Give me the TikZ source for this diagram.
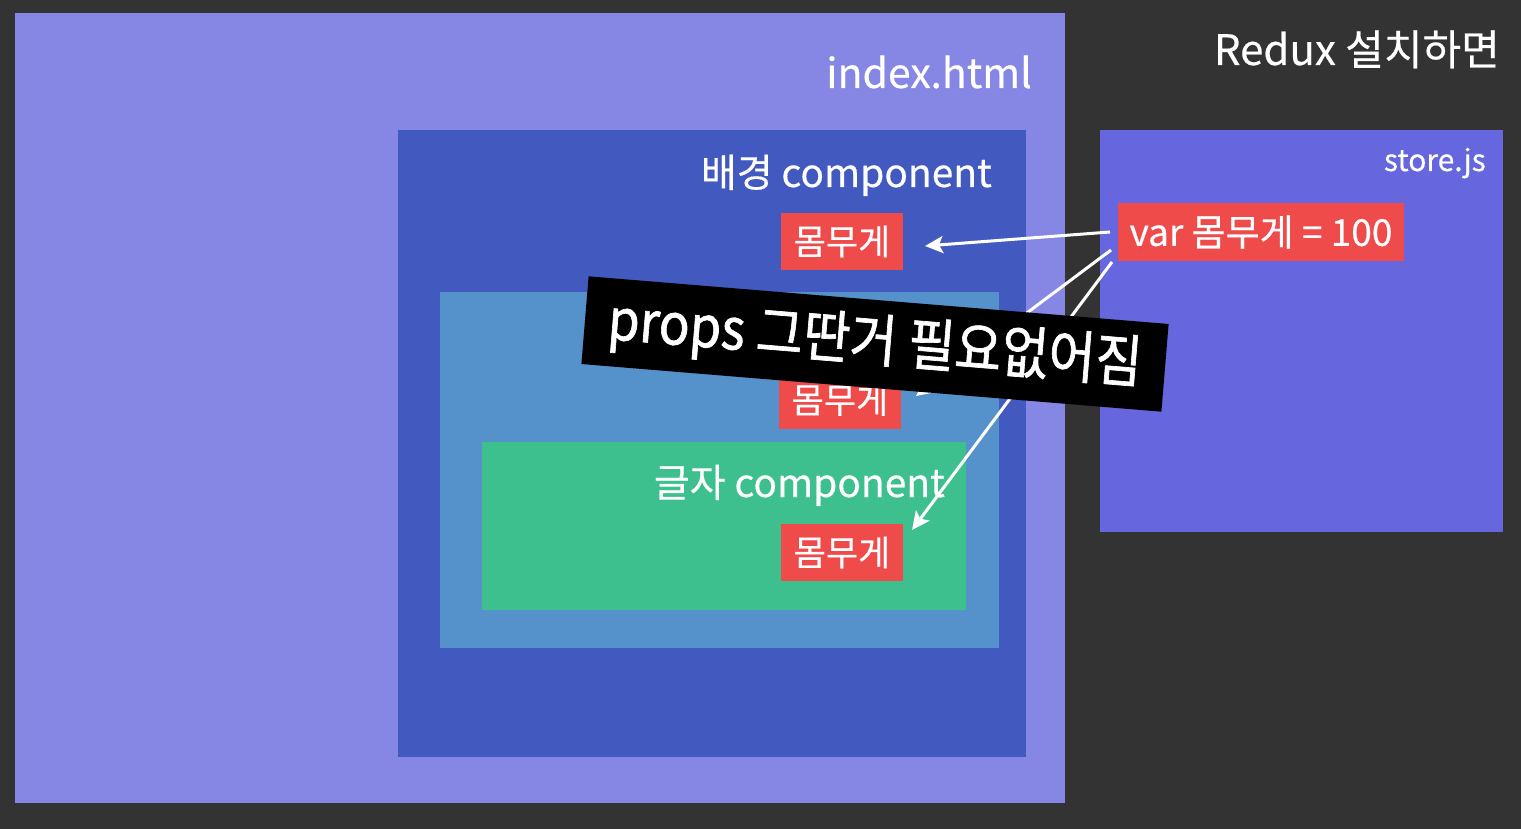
\documentclass[tikz,border=0pt]{standalone}
\usepackage{fontspec}
\setmainfont[FakeBold=0.4]{Noto Sans CJK KR}
\newfontfamily\bannerfont[FakeBold=1.2]{Noto Sans CJK KR}
\usetikzlibrary{arrows.meta}
\definecolor{bgc}{HTML}{333333}
\definecolor{outerc}{HTML}{8686E4}
\definecolor{innerc}{HTML}{425ABF}
\definecolor{midc}{HTML}{5592CC}
\definecolor{greenc}{HTML}{3DBF8E}
\definecolor{storec}{HTML}{6666DF}
\definecolor{redc}{HTML}{F04B4B}
\newcommand\fsz[1]{\fontsize{#1}{#1}\selectfont}
\tikzset{
  boxn/.style={rectangle, inner sep=0pt, outer sep=0pt, draw=none},
  lbl/.style={text=white, inner sep=0pt, anchor=base east, font=\fsz{39}},
  redbox/.style={boxn, fill=redc, text=white, font=\fsz{35}},
  arr/.style={draw=white, line width=3pt, -{Stealth[length=18pt,width=17pt,inset=4pt]}},
}
\begin{document}
\begin{tikzpicture}[x=1pt,y=-1pt]
\useasboundingbox (0,0) rectangle (1521,829);
\fill[bgc] (0,0) rectangle (1521,829);
% boxes
\node[boxn, fill=outerc, minimum width=1050, minimum height=790] (outer) at (540,408) {};
\node[lbl, font=\fsz{41}] (idx) at (1032,88) {index.html};
\node[boxn, fill=innerc, minimum width=628, minimum height=627] (inner) at (712,443.5) {};
\node[lbl] (bglbl) at (992,187) {배경 component};
\node[boxn, fill=midc, minimum width=559, minimum height=356] (mid) at (719.5,470) {};
\node[boxn, fill=greenc, minimum width=484, minimum height=168] (green) at (724,526) {};
\node[lbl] (gllbl) at (945,497) {글자 component};
\node[redbox, minimum width=122, minimum height=57] (r1) at (842,241.5) {몸무게};
\node[redbox, minimum width=122, minimum height=57] (r2) at (840,400) {몸무게};
\node[redbox, minimum width=122, minimum height=57] (r3) at (842,552.5) {몸무게};
\node[boxn, fill=storec, minimum width=403, minimum height=402] (store) at (1301.5,331) {};
\node[lbl, font=\fsz{30}] (stlbl) at (1486,171) {store.js};
\node[redbox, minimum width=286, minimum height=58, font=\fsz{37}] (var) at (1261,232) {var 몸무게 = 100};
% arrows
\coordinate (s1) at (1110,232);
\coordinate (t1) at (925,246);
\coordinate (s2) at (1111,250);
\coordinate (t2) at (916,396);
\coordinate (s3) at (1112,262);
\coordinate (t3) at (912,530);
\draw[arr] (s1) -- (t1);
\draw[arr] (s2) -- (t2);
\draw[arr] (s3) -- (t3);
% banner
\node[boxn, fill=black, text=white, minimum width=582, minimum height=88, rotate=-4.7, font=\bannerfont\fsz{51}] (banner) at (875,344) {\scalebox{1}[1.12]{props 그딴거 필요없어짐}};
% title
\node[lbl, font=\fsz{42}] (title) at (1500,65) {Redux 설치하면};
\end{tikzpicture}
\end{document}
